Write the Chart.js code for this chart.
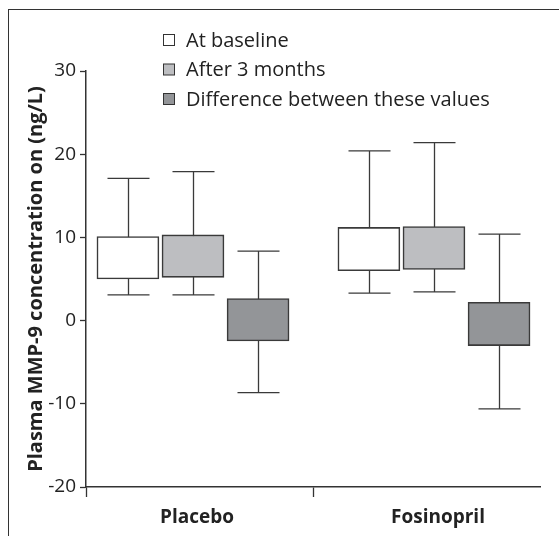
<!DOCTYPE html>
<html><head><meta charset="utf-8">
<script src="https://cdn.jsdelivr.net/npm/chart.js@4.4.1/dist/chart.umd.min.js"></script>
<style>
html,body{margin:0;padding:0;background:#fff;}
#wrap{position:relative;width:559px;height:536px;overflow:hidden;}
#frame{position:absolute;left:8px;top:9px;width:700px;height:700px;border-left:1.5px solid #333;border-top:1.5px solid #333;}
canvas{position:absolute;left:0;top:0;}
</style></head><body>
<div id="wrap"><div id="frame"></div><canvas id="c" width="559" height="536"></canvas></div>
<script>
const categories = ['Placebo', 'Fosinopril'];
const seriesLabels = ['At baseline', 'After 3 months', 'Difference between these values'];
// boxes: lower / upper edge; whiskers: lower / upper end (ng/L)
const baselineBoxLow = [5.0, 6.0];
const baselineBoxHigh = [10.1, 11.2];
const baselineWhiskerLow = [3.1, 3.3];
const baselineWhiskerHigh = [17.1, 20.4];
const afterBoxLow = [5.2, 6.15];
const afterBoxHigh = [10.3, 11.3];
const afterWhiskerLow = [3.1, 3.45];
const afterWhiskerHigh = [17.9, 21.4];
const diffBoxLow = [-2.45, -3.0];
const diffBoxHigh = [2.65, 2.2];
const diffWhiskerLow = [-8.65, -10.6];
const diffWhiskerHigh = [8.35, 10.4];
const yTicks = [-20, -10, 0, 10, 20, 30];

const seriesColors = ['#ffffff', '#bdbec1', '#939598'];
const GROUP_STEP = 0.27;

function makeDataset(si, lows, highs, wLow, wHigh) {
  return {
    label: seriesLabels[si],
    data: categories.map((c, ci) => ({ x: ci + (si - 1) * GROUP_STEP, y: [lows[ci], highs[ci]] })),
    whiskerLow: wLow,
    whiskerHigh: wHigh,
    backgroundColor: seriesColors[si],
    borderColor: '#3a3a3a',
    borderWidth: 1.6,
    borderSkipped: false,
    barThickness: 62,
    grouped: false
  };
}

const whiskerPlugin = {
  id: 'whiskers',
  beforeDatasetsDraw(chart) {
    const ctx = chart.ctx, ys = chart.scales.y;
    chart.data.datasets.forEach((ds, di) => {
      const meta = chart.getDatasetMeta(di);
      meta.data.forEach((bar, i) => {
        const x = Math.round(bar.x) + 0.5;
        const yl = ys.getPixelForValue(ds.whiskerLow[i]);
        const yh = ys.getPixelForValue(ds.whiskerHigh[i]);
        ctx.save();
        ctx.strokeStyle = '#3a3a3a';
        ctx.lineWidth = 1.3;
        ctx.beginPath();
        ctx.moveTo(x, yl); ctx.lineTo(x, yh);
        ctx.moveTo(x - 21, yl); ctx.lineTo(x + 21, yl);
        ctx.moveTo(x - 21, yh); ctx.lineTo(x + 21, yh);
        ctx.stroke();
        ctx.restore();
      });
    });
  }
};

const legendPlugin = {
  id: 'boxLegend',
  afterDraw(chart) {
    const ctx = chart.ctx;
    ctx.save();
    ctx.font = '20px "Open Sans"';
    ctx.textBaseline = 'middle';
    chart.data.datasets.forEach((ds, i) => {
      const cy = 40 + i * 29.5;
      ctx.fillStyle = ds.backgroundColor;
      ctx.fillRect(163.5, cy - 5.5, 11, 11);
      ctx.strokeStyle = '#333';
      ctx.lineWidth = 1;
      ctx.strokeRect(163.5, cy - 5.5, 11, 11);
      ctx.fillStyle = '#222';
      ctx.fillText(ds.label, 186, cy + 1);
    });
    ctx.restore();
  }
};

const X_MIN = -0.444, X_MAX = 1.44;

new Chart(document.getElementById('c'), {
  type: 'bar',
  data: {
    datasets: [
      makeDataset(0, baselineBoxLow, baselineBoxHigh, baselineWhiskerLow, baselineWhiskerHigh),
      makeDataset(1, afterBoxLow, afterBoxHigh, afterWhiskerLow, afterWhiskerHigh),
      makeDataset(2, diffBoxLow, diffBoxHigh, diffWhiskerLow, diffWhiskerHigh)
    ]
  },
  options: {
    responsive: false,
    animation: false,
    layout: { padding: { top: 71, right: 19, bottom: 0, left: 0 } },
    plugins: { legend: { display: false }, tooltip: { enabled: false } },
    scales: {
      x: {
        type: 'linear',
        offset: false,
        min: X_MIN,
        max: X_MAX,
        afterBuildTicks(scale) {
          scale.ticks = [{ value: X_MIN }, { value: 0 }, { value: 0.5 }, { value: 1 }];
        },
        afterFit(scale) { scale.height = 49; },
        ticks: {
          autoSkip: false,
          maxRotation: 0,
          padding: 9,
          labelOffset: 4,
          color: '#222',
          font: { family: 'Open Sans', size: 19, weight: 'bold' },
          callback: (v) => (Number.isInteger(v) && categories[v] !== undefined) ? categories[v] : ''
        },
        grid: {
          offset: false,
          drawOnChartArea: false,
          tickLength: 10,
          tickWidth: 1.3,
          tickColor: (ctx) => (ctx.tick && Number.isInteger(ctx.tick.value)) ? 'rgba(0,0,0,0)' : '#333'
        },
        border: { color: '#333', width: 1.5 }
      },
      y: {
        min: -20,
        max: 30,
        afterBuildTicks(scale) { scale.ticks = yTicks.map(v => ({ value: v })); },
        afterFit(scale) { scale.width = 86; },
        ticks: {
          padding: 4,
          color: '#222',
          font: { family: 'Open Sans', size: 19 }
        },
        grid: { drawOnChartArea: false, tickLength: 6, tickWidth: 1.3, tickColor: '#333' },
        border: { color: '#333', width: 1.5 },
        title: {
          display: true,
          text: 'Plasma MMP-9 concentration on (ng/L)',
          color: '#222',
          font: { family: 'Open Sans', size: 20, weight: 'bold' },
          padding: { top: 24, bottom: 0 }
        }
      }
    }
  },
  plugins: [whiskerPlugin, legendPlugin]
});
</script>
</body></html>
